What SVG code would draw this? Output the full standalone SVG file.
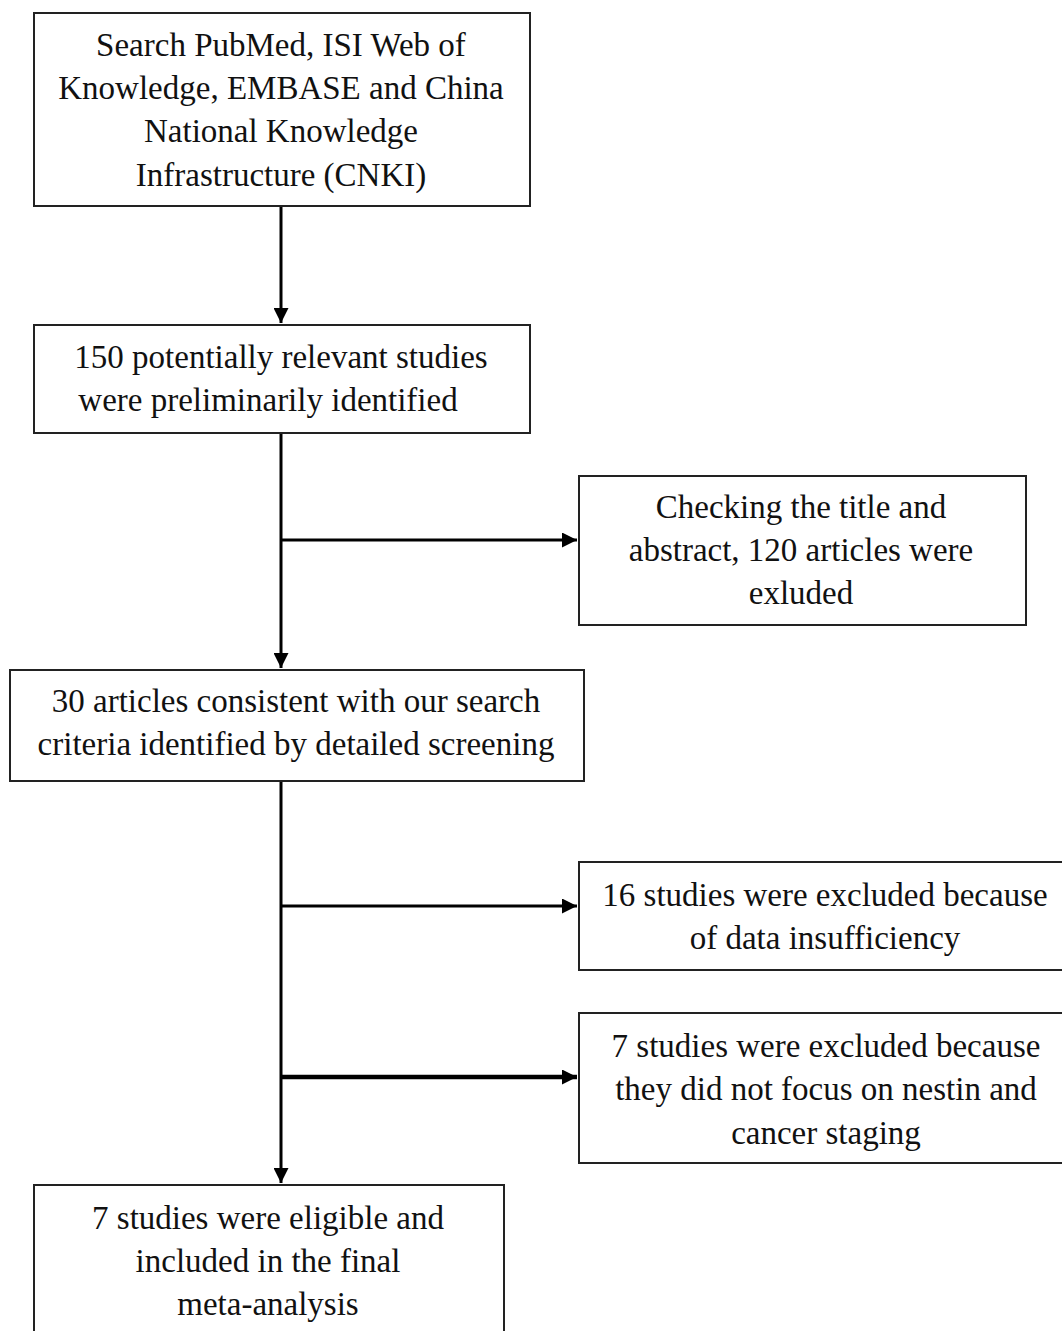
<svg xmlns="http://www.w3.org/2000/svg" width="1062" height="1331" viewBox="0 0 1062 1331">
<style>
.box{fill:#fff;stroke:#222;stroke-width:2}
.t{font-family:"Liberation Serif","Times New Roman",serif;font-size:33px;fill:#111;text-anchor:middle}
.c{stroke:#000;stroke-width:3;fill:none}
</style>
<defs>
<marker id="ah" viewBox="0 0 10 10" refX="10" refY="5" markerWidth="16" markerHeight="15" markerUnits="userSpaceOnUse" orient="auto">
<path d="M0,0 L10,5 L0,10 z" fill="#000"/>
</marker>
</defs>
<rect width="1062" height="1331" fill="#fff"/>
<g id="connectors">
<line class="c" x1="281" y1="206" x2="281" y2="323" marker-end="url(#ah)"/>
<line class="c" x1="281" y1="433" x2="281" y2="668" marker-end="url(#ah)"/>
<line class="c" x1="281" y1="540" x2="577" y2="540" marker-end="url(#ah)"/>
<line class="c" x1="281" y1="781" x2="281" y2="1183" marker-end="url(#ah)"/>
<line class="c" x1="281" y1="906" x2="577" y2="906" marker-end="url(#ah)"/>
<line class="c" x1="281" y1="1077" x2="577" y2="1077" style="stroke-width:4.5" marker-end="url(#ah)"/>
</g>
<g id="n1">
<rect class="box" x="34" y="13" width="496" height="193"/>
<text class="t" x="281" y="56">Search PubMed, ISI Web of</text>
<text class="t" x="281" y="99">Knowledge, EMBASE and China</text>
<text class="t" x="281" y="142">National Knowledge</text>
<text class="t" x="281" y="186">Infrastructure (CNKI)</text>
</g>
<g id="n2">
<rect class="box" x="34" y="325" width="496" height="108"/>
<text class="t" x="281" y="368">150 potentially relevant studies</text>
<text class="t" x="268" y="411">were preliminarily identified</text>
</g>
<g id="n3">
<rect class="box" x="579" y="476" width="447" height="149"/>
<text class="t" x="801" y="518">Checking the title and</text>
<text class="t" x="801" y="561">abstract, 120 articles were</text>
<text class="t" x="801" y="604">exluded</text>
</g>
<g id="n4">
<rect class="box" x="10" y="670" width="574" height="111"/>
<text class="t" x="296" y="712">30 articles consistent with our search</text>
<text class="t" x="296" y="755">criteria identified by detailed screening</text>
</g>
<g id="n5">
<rect class="box" x="579" y="862" width="490" height="108"/>
<text class="t" x="825" y="906">16 studies were excluded because</text>
<text class="t" x="825" y="949">of data insufficiency</text>
</g>
<g id="n6">
<rect class="box" x="579" y="1013" width="490" height="150"/>
<text class="t" x="826" y="1057">7 studies were excluded because</text>
<text class="t" x="826" y="1100">they did not focus on nestin and</text>
<text class="t" x="826" y="1144">cancer staging</text>
</g>
<g id="n7">
<rect class="box" x="34" y="1185" width="470" height="160"/>
<text class="t" x="268" y="1229">7 studies were eligible and</text>
<text class="t" x="268" y="1272">included in the final</text>
<text class="t" x="268" y="1315">meta-analysis</text>
</g>
</svg>
